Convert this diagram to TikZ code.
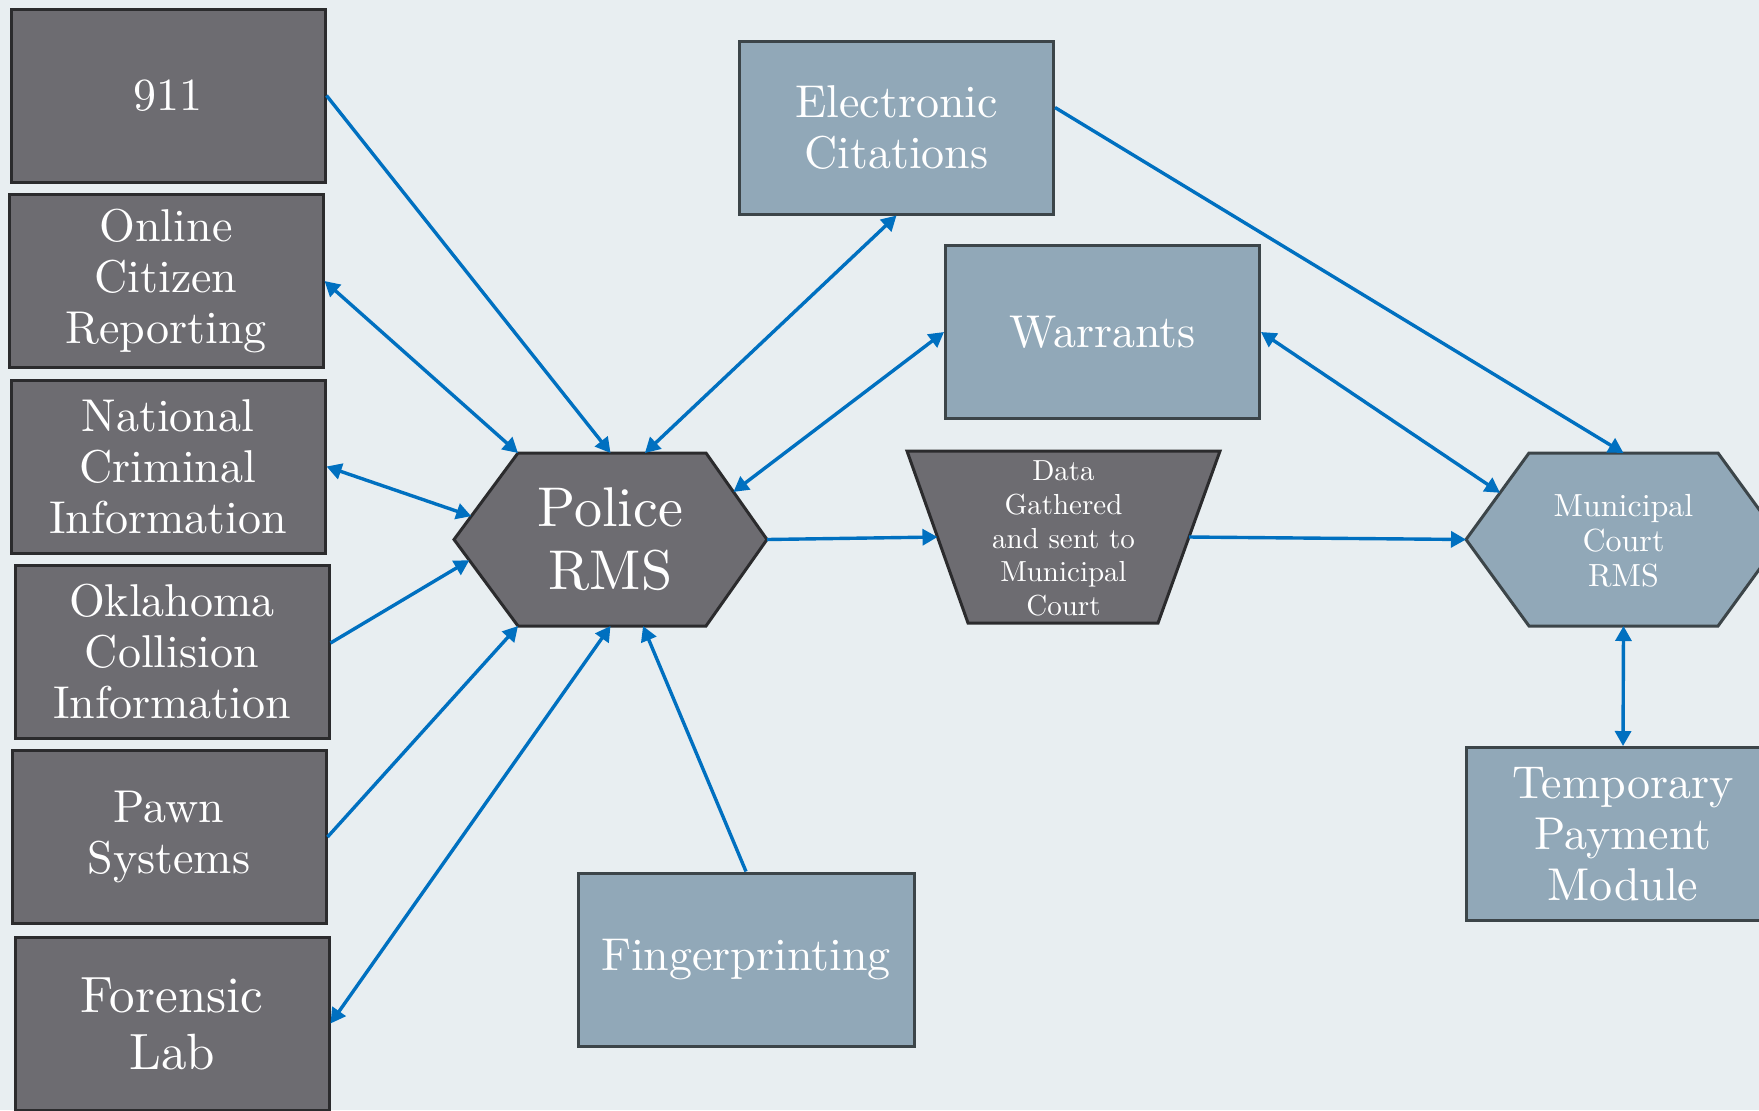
\documentclass[tikz,border=0pt]{standalone}
\usepackage{fontspec}
\setmainfont{lmroman10-regular.otf}
\usetikzlibrary{positioning,arrows.meta,calc}
\definecolor{bgcol}{HTML}{E8EEF1}
\definecolor{darkfill}{HTML}{6D6C71}
\definecolor{darkline}{HTML}{2B2B2D}
\definecolor{lightfill}{HTML}{91A8B8}
\definecolor{lightline}{HTML}{3C4549}
\definecolor{linkblue}{HTML}{0070C0}

\begin{document}
\begin{tikzpicture}[x=0.5pt, y=-0.5pt, >={Triangle[length=7.5pt,width=8pt]},
  every node/.append style={align=center, text=white, inner sep=0pt},
  darkbox/.style={draw=darkline, fill=darkfill, line width=1.5pt, minimum width=157pt, minimum height=86.5pt, font=\fontsize{23}{25.5}\selectfont},
  lightbox/.style={draw=lightline, fill=lightfill, line width=1.5pt, minimum width=157pt, minimum height=86.5pt, font=\fontsize{23}{25.5}\selectfont},
  darkshape/.style={draw=darkline, fill=darkfill, line width=1.5pt, line join=miter},
  lightshape/.style={draw=lightline, fill=lightfill, line width=1.5pt, line join=miter},
  link/.style={draw=linkblue, line width=1.7pt}]
  \useasboundingbox (0,0) rectangle (1759,1110);
  \clip (0,0) rectangle (1759,1110);
  \fill[bgcol] (0,0) rectangle (1759,1110);

  % sources on the left
  \node[darkbox] at (168,95.5) (n911) {911};
  \node[darkbox] at (166,281) (online) {Online\\Citizen\\Reporting};
  \node[darkbox] at (168,466.5) (national) {National\\Criminal\\Information};
  \node[darkbox] at (172,652) (oklahoma) {Oklahoma\\Collision\\Information};
  \node[darkbox] at (169,837) (pawn) {Pawn\\Systems};
  \node[darkbox, font=\fontsize{25.5}{28.5}\selectfont] at (172,1023.5) (forensic) {Forensic\\Lab};

  \node[lightbox] at (896.5,127.5) (ecite) {Electronic\\Citations};
  \node[lightbox] at (1102.5,332) (warrants) {Warrants};
  \node[lightbox, minimum width=168pt] at (746,959.5) (finger) {Fingerprinting};
  \node[lightbox] at (1623,834) (temp) {Temporary\\Payment\\Module};

  % police hexagon
  \draw[darkshape] (454,539.5) coordinate (p-w) -- (518,453) coordinate (p-nw) -- (706,453) coordinate (p-ne)
    -- (767,539.5) coordinate (p-e) -- (706,626) coordinate (p-se) -- (518,626) coordinate (p-sw) -- cycle;
  \coordinate (p-n) at (610.5,453);
  \coordinate (p-s) at (610.5,626);
  \node[font=\fontsize{28}{31.5}\selectfont] at (610.5,539.5) (police) {Police\\RMS};

  % data trapezium
  \draw[darkshape] (907,451) coordinate (d-nw) -- (1220,451) coordinate (d-ne)
    -- (1158,623) coordinate (d-se) -- (968,623) coordinate (d-sw) -- cycle;
  \coordinate (d-w) at ($(d-nw)!0.5!(d-sw)$);
  \coordinate (d-e) at ($(d-ne)!0.5!(d-se)$);
  \node[font=\fontsize{14.5}{16.8}\selectfont] at (1063.5,538.5) (data) {Data\\Gathered\\and sent to\\Municipal\\Court};

  % court hexagon
  \draw[lightshape] (1466,539.5) coordinate (m-w) -- (1529,453) coordinate (m-nw) -- (1718,453) coordinate (m-ne)
    -- (1781,539.5) coordinate (m-e) -- (1718,626) coordinate (m-se) -- (1529,626) coordinate (m-sw) -- cycle;
  \coordinate (m-n) at (1623.5,453);
  \coordinate (m-s) at (1623.5,626);
  \node[font=\fontsize{16}{17.4}\selectfont] at (1623.5,541) (court) {Municipal\\Court\\RMS};

  \draw[link,->] (n911.east) -- (p-n);
  \draw[link,<->] (online.east) -- (p-nw);
  \draw[link,<->] (national.east) -- ($(p-w)!0.27!(p-nw)$);
  \draw[link,->] ([yshift=4.5pt]oklahoma.east) -- ($(p-w)!0.24!(p-sw)$);
  \draw[link,->] (pawn.east) -- (p-sw);
  \draw[link,<->] (forensic.east) -- (p-s);
  \draw[link,->] (finger.north) -- ($(p-sw)!0.665!(p-se)$);
  \draw[link,<->] (ecite.south) -- ($(p-nw)!0.675!(p-ne)$);
  \draw[link,<->] (warrants.west) -- ($(p-ne)!0.45!(p-e)$);
  \draw[link,->] (p-e) -- (d-w);
  \draw[link,->] (d-e) -- (m-w);
  \draw[link,->] ([yshift=10pt]ecite.east) -- (m-n);
  \draw[link,<->] (warrants.east) -- ($(m-w)!0.54!(m-nw)$);
  \draw[link,<->] (m-s) -- (temp.north);
\end{tikzpicture}
\end{document}
